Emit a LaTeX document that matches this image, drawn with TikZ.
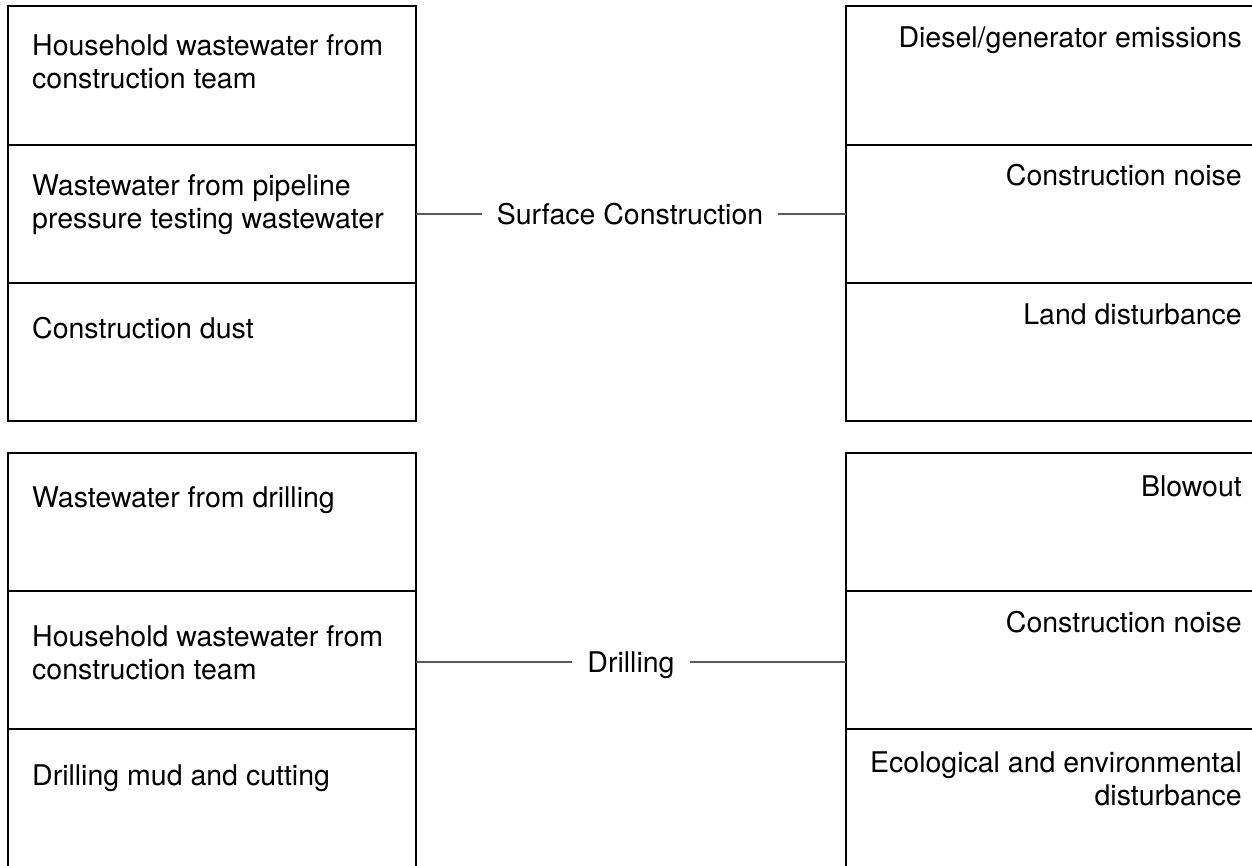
\documentclass[tikz,border=0pt]{standalone}
\usepackage{fontspec}
\setmainfont{TeX Gyre Heros}
\newcommand\LeftLines[1]{\vtop{\halign{##\hfil\cr#1\crcr}}}
\newcommand\RightLines[1]{\vtop{\halign{\hfil##\cr#1\crcr}}}
\tikzset{
  cell/.style={draw=black, line width=2pt, inner sep=0pt, outer sep=0pt},
  ltxt/.style={anchor=base west, inner sep=0pt, font=\fontsize{28.5}{33}\selectfont},
  rtxt/.style={anchor=base east, inner sep=0pt, font=\fontsize{28.5}{33}\selectfont},
  phase/.style={inner xsep=15pt, inner ysep=0pt, text height=21pt, text depth=0pt, font=\fontsize{28.5}{33}\selectfont},
  link/.style={draw=black!65, line width=1.5pt}
}
\begin{document}
\begin{tikzpicture}[x=1pt,y=-1pt]
\useasboundingbox (0,0) rectangle (1252,865);
\clip (0,0) rectangle (1252,865);
% left cells, top group
\draw[cell] (8,6) rectangle (416,145) coordinate (l1);
\draw[cell] (8,145) rectangle (416,283);
\draw[cell] (8,283) rectangle (416,421);
\node[cell, minimum width=408pt, minimum height=138pt, draw=none] (L1) at (212,214) {};
% left cells, bottom group
\draw[cell] (8,453) rectangle (416,591);
\draw[cell] (8,591) rectangle (416,729);
\draw[cell] (8,729) rectangle (416,867);
\node[cell, minimum width=408pt, minimum height=138pt, draw=none] (L2) at (212,660) {};
% right cells, top group
\draw[cell] (846,6) rectangle (1262,145);
\draw[cell] (846,145) rectangle (1262,283);
\draw[cell] (846,283) rectangle (1262,421);
\node[cell, minimum width=416pt, minimum height=138pt, draw=none] (R1) at (1054,214) {};
% right cells, bottom group
\draw[cell] (846,453) rectangle (1262,591);
\draw[cell] (846,591) rectangle (1262,729);
\draw[cell] (846,729) rectangle (1262,867);
\node[cell, minimum width=416pt, minimum height=138pt, draw=none] (R2) at (1054,660) {};
% left texts
\node[ltxt] (t1) at (32,55) {\LeftLines{Household wastewater from\cr construction team}};
\node[ltxt] (t2) at (32,195) {\LeftLines{Wastewater from pipeline\cr pressure testing wastewater}};
\node[ltxt] (t3) at (32,338) {Construction dust};
\node[ltxt] (t4) at (32,507) {Wastewater from drilling};
\node[ltxt] (t5) at (32,646) {\LeftLines{Household wastewater from\cr construction team}};
\node[ltxt] (t6) at (32,785) {Drilling mud and cutting};
% right texts
\node[rtxt] (u1) at (1242,47) {Diesel/generator emissions};
\node[rtxt] (u2) at (1242,185) {Construction noise};
\node[rtxt] (u3) at (1242,324) {Land disturbance};
\node[rtxt] (u4) at (1242,496) {Blowout};
\node[rtxt] (u5) at (1242,632) {Construction noise};
\node[rtxt] (u6) at (1242,772) {\RightLines{Ecological and environmental\cr disturbance}};
% phases
\node[phase] (p1) at (630,214) {Surface Construction};
\node[phase] (p2) at (631,662) {Drilling};
\draw[link] (L1.east |- p1) -- (p1.west);
\draw[link] (p1.east) -- (R1.west |- p1);
\draw[link] (L2.east |- p2) -- (p2.west);
\draw[link] (p2.east) -- (R2.west |- p2);
\end{tikzpicture}
\end{document}
